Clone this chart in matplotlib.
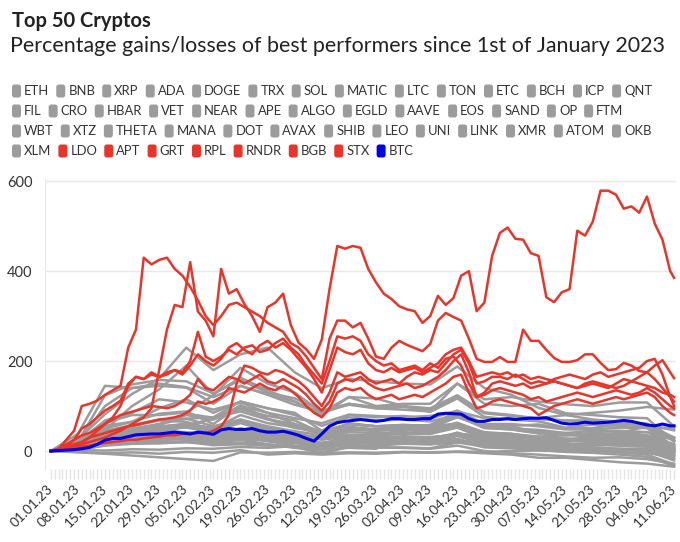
import numpy as np
import pandas as pd
import matplotlib
matplotlib.use("Agg")
import matplotlib.pyplot as plt
import matplotlib.dates as mdates
from matplotlib.patches import FancyBboxPatch
from matplotlib.transforms import IdentityTransform

plt.rcParams['font.family'] = ['Lato', 'DejaVu Sans']

# day offsets since 01.01.2023
week_days = np.arange(0, 162, 7)                 # gray coins, weekly
fine_days = np.r_[np.arange(0, 161, 2), 161]     # highlighted coins, every 2nd day

# ---- gray coins (weekly % change) ----
eth = [0,6,29,36,34,36,27,41,37,31,33,50,46,50,55,75,55,56,59,50,51,60,58,46]
bnb = [0,5,22,25,28,30,24,32,25,18,15,34,33,30,28,38,34,32,30,25,24,26,24,0]
xrp = [0,2,15,21,18,20,13,15,12,9,5,15,30,50,48,55,40,38,32,35,37,40,55,50]
ada = [0,10,35,45,55,60,51,67,45,35,30,47,45,55,58,88,60,60,55,48,48,52,51,10]
doge = [0,7,26,22,25,31,18,25,15,7,3,7,5,34,18,34,15,12,7,3,3,4,3,-11]
trx = [0,3,12,16,17,20,22,28,25,22,15,20,18,18,20,22,20,20,22,25,32,38,42,30]
sol = [0,38,145,140,145,141,105,145,126,110,80,120,100,105,105,150,115,120,110,104,100,108,108,55]
matic = [0,10,25,30,45,58,71,97,71,51,45,51,45,48,45,55,32,28,18,15,18,20,18,-18]
ltc = [0,8,26,22,29,32,36,43,33,21,7,21,25,30,28,40,29,25,14,20,29,30,32,14]
ton = [0,-2,-5,-3,-6,-2,-4,2,-8,-5,-8,-5,-6,-3,-4,-2,-5,-8,-15,-15,-20,-25,-28,-35]
etc = [0,8,37,50,45,38,25,50,38,25,12,30,30,28,28,37,24,22,15,12,14,15,14,-3]
bch = [0,2,13,24,34,30,26,39,33,29,13,32,30,32,31,34,24,22,18,15,16,18,15,13]
icp = [0,10,45,47,57,83,74,88,70,60,39,62,55,54,52,77,51,48,39,40,45,45,42,13]
qnt = [0,12,48,40,38,42,33,43,30,19,10,19,22,20,18,24,12,10,5,3,3,5,5,-7]
fil = [0,9,63,80,80,86,124,185,150,130,86,120,117,100,87,117,76,70,66,52,59,56,52,22]
cro = [0,8,31,35,42,55,48,46,35,27,18,27,27,29,28,36,22,20,18,15,16,12,10,0]
hbar = [0,15,50,65,95,115,85,110,95,85,45,80,75,78,72,90,60,55,40,35,40,38,35,15]
vet = [0,10,35,45,60,80,70,93,78,68,40,60,55,58,55,61,42,38,29,25,27,26,24,3]
near = [0,20,68,85,115,108,92,108,85,60,44,60,55,52,50,76,55,50,44,38,32,35,30,4]
ape = [0,25,45,55,68,65,45,62,45,30,13,28,22,22,20,27,12,8,4,-2,-4,-8,-13,-33]
algo = [0,8,30,40,53,60,45,70,50,35,12,28,25,25,22,41,22,18,12,5,0,-3,-8,-30]
egld = [0,4,15,20,27,30,24,34,22,12,-3,10,8,7,5,12,0,-5,-8,-12,-15,-14,-18,-28]
aave = [0,15,44,58,70,72,55,70,55,44,35,54,48,50,48,63,40,38,29,25,25,22,19,6]
eos = [0,6,28,30,34,36,30,46,40,38,28,36,35,38,38,52,28,22,16,10,8,5,0,-12]
sand = [0,19,100,140,150,142,120,145,125,103,87,103,95,98,92,120,84,78,71,68,68,64,61,22]
op = [0,25,82,127,161,230,180,215,230,175,140,160,155,150,148,188,140,125,96,80,70,65,60,30]
ftm = [0,15,47,100,137,190,126,163,135,110,84,105,95,92,88,150,105,100,105,84,80,75,73,21]
wbt = [0,2,1,4,3,6,5,9,7,11,10,13,12,16,15,19,18,21,24,23,27,29,31,28]
xtz = [0,8,32,40,52,60,50,80,62,53,38,52,48,50,46,60,38,35,32,28,26,22,20,-3]
theta = [0,12,40,50,60,72,75,110,95,80,56,75,68,70,66,80,52,48,40,36,32,30,28,6]
mana = [0,20,124,148,158,155,128,158,130,117,90,105,98,100,95,124,86,80,72,68,65,62,58,24]
dot = [0,12,40,46,51,52,42,67,50,40,28,42,40,42,38,58,38,32,28,22,23,22,21,2]
avax = [0,15,56,65,83,88,60,102,72,56,38,60,55,58,56,79,55,50,47,40,38,36,33,6]
shib = [0,10,31,40,48,62,50,68,48,37,25,32,30,32,30,37,20,15,12,8,5,4,0,-21]
leo = [0,-3,-6,-10,-14,-18,-22,-3,-4,-2,-5,-3,-4,-2,-3,-1,-2,0,1,-1,0,2,1,-1]
uni = [0,6,17,22,27,31,22,35,28,21,8,18,16,17,15,23,8,6,2,-1,-2,-3,-4,-15]
link = [0,4,18,20,27,25,20,36,26,21,16,22,24,28,30,37,22,20,16,14,12,15,14,2]
xmr = [0,6,19,21,22,20,17,19,15,9,-5,9,8,8,6,19,10,8,9,5,4,3,2,-5]
atom = [0,10,34,38,45,42,38,50,36,29,18,26,24,22,20,34,18,15,13,12,14,12,10,-10]
okb = [0,8,23,30,42,54,73,100,85,73,62,81,78,75,78,88,73,72,73,80,85,90,98,92]
xlm = [0,4,17,18,22,32,26,28,22,18,8,25,30,47,42,53,35,30,26,22,25,24,21,8]

gray_names = ["ETH", "BNB", "XRP", "ADA", "DOGE", "TRX", "SOL", "MATIC", "LTC", "TON",
              "ETC", "BCH", "ICP", "QNT", "FIL", "CRO", "HBAR", "VET", "NEAR", "APE",
              "ALGO", "EGLD", "AAVE", "EOS", "SAND", "OP", "FTM", "WBT", "XTZ", "THETA",
              "MANA", "DOT", "AVAX", "SHIB", "LEO", "UNI", "LINK", "XMR", "ATOM", "OKB", "XLM"]
gray_series = [eth, bnb, xrp, ada, doge, trx, sol, matic, ltc, ton, etc, bch, icp, qnt,
               fil, cro, hbar, vet, near, ape, algo, egld, aave, eos, sand, op, ftm,
               wbt, xtz, theta, mana, dot, avax, shib, leo, uni, link, xmr, atom, okb, xlm]

# ---- best performers (every 2nd day) ----
ldo = [0,5,15,25,35,40,50,60,75,100,
       145,165,160,175,165,170,180,175,200,265,
       210,200,210,225,215,230,235,220,225,240,
       250,230,215,190,170,150,200,255,250,255,
       245,215,200,190,195,180,185,190,180,195,
       185,205,210,190,150,120,130,150,155,150,
       145,150,140,145,150,155,150,145,140,150,
       155,150,145,140,145,155,165,175,160,140,
       120,110]
apt = [0,5,25,45,100,105,112,125,135,145,
       230,270,430,415,425,430,405,390,365,335,
       300,280,300,325,330,320,310,300,285,275,
       265,240,230,210,185,160,250,290,290,275,
       285,250,210,205,230,245,236,229,222,238,
       290,307,298,290,250,205,198,198,209,198,
       198,270,245,245,225,207,198,198,202,215,
       215,196,180,182,196,190,178,175,190,202,
       175,162]
grt = [0,2,5,8,10,12,15,18,20,22,
       25,25,28,30,32,35,35,38,38,40,
       40,45,55,80,150,190,185,175,170,180,
       175,165,155,140,120,100,130,175,165,170,
       175,160,150,155,160,150,165,175,170,180,
       175,195,215,225,195,150,155,165,165,160,
       170,160,150,155,150,160,165,170,165,160,
       170,175,165,170,175,180,185,200,205,170,
       120,100]
rpl = [0,3,8,15,20,30,45,60,70,80,
       85,90,95,100,98,95,100,110,125,160,
       140,135,150,165,160,150,160,170,155,150,
       160,150,140,125,105,90,110,150,160,155,
       165,150,140,135,140,145,150,140,145,155,
       165,180,200,215,175,120,125,135,140,135,
       130,125,115,120,110,115,120,125,130,125,
       120,125,130,135,130,125,130,140,130,115,
       100,95]
rndr = [0,2,6,10,15,20,25,30,38,45,
        55,65,75,95,180,270,325,320,420,310,
        290,255,405,350,360,327,300,265,320,330,
        350,280,241,226,205,248,360,456,450,456,
        452,405,375,350,338,322,315,311,285,300,
        345,325,340,390,400,311,330,434,485,497,
        472,470,440,434,342,331,353,360,490,479,
        510,579,579,570,539,544,530,566,506,470,
        400,385]
bgb = [0,2,5,10,20,30,35,40,45,50,
       55,58,62,66,70,72,75,80,90,110,
       105,110,120,140,135,130,140,150,140,135,
       145,135,120,100,85,75,95,130,140,135,
       140,125,115,120,125,115,120,125,120,130,
       140,150,165,170,130,95,100,110,115,110,
       105,100,95,80,90,100,105,110,115,110,
       105,110,115,120,115,120,125,130,120,100,
       85,80]
stx = [0,3,10,25,50,60,75,90,100,112,
       150,165,160,170,165,175,180,170,190,215,
       200,190,205,230,240,225,215,235,245,230,
       240,225,205,185,160,130,180,230,220,215,
       225,195,180,175,185,175,180,185,175,185,
       195,215,225,230,200,165,170,175,170,175,
       165,170,160,165,160,155,150,145,140,145,
       150,145,140,150,160,155,150,145,140,130,
       125,120]
btc = [0,1,2,3,5,8,15,24,28,28,
       32,36,37,38,38,40,42,40,38,42,
       40,37,47,50,48,48,50,45,42,42,
       44,40,35,28,22,38,55,63,66,68,
       70,68,66,68,72,72,70,70,72,72,
       82,84,83,82,72,66,66,70,70,72,
       70,72,73,73,74,68,62,60,61,64,
       62,63,64,66,68,66,62,58,56,60,
       56,56]

red_names = ["LDO", "APT", "GRT", "RPL", "RNDR", "BGB", "STX"]
red_series = [ldo, apt, grt, rpl, rndr, bgb, stx]

GRAY, RED, BLUE = "#9c9c9c", "#e8352b", "#0000e0"

fig = plt.figure(figsize=(6.8, 5.42), dpi=100)
W, H = 680, 542
ax = fig.add_axes([45 / W, (H - 469) / H, (676 - 45) / W, (469 - 179) / H])

t0 = mdates.date2num(pd.Timestamp("2023-01-01"))
for s in gray_series:
    ax.plot(t0 + week_days, s, color=GRAY, lw=1.8, solid_joinstyle="round")
for s in red_series:
    ax.plot(t0 + fine_days, s, color=RED, lw=1.8, solid_joinstyle="round")
ax.plot(t0 + fine_days, btc, color=BLUE, lw=2.2, solid_joinstyle="round")

ax.set_xlim(t0 - 1.5, t0 + 161.5)
ax.set_ylim(-40, 605)
ax.set_yticks([0, 200, 400, 600])
ax.grid(axis="y", color="#e8e8e8", lw=1)
ax.set_axisbelow(True)
for side in ["top", "right", "bottom"]:
    ax.spines[side].set_visible(False)
ax.spines["left"].set_color("#e8e8e8")
ax.tick_params(axis="y", length=0, pad=9, labelsize=10.5, labelcolor="#333333")

ax.set_xticks(t0 + np.arange(0, 162, 7))
ax.set_xticklabels([(pd.Timestamp("2023-01-01") + pd.Timedelta(days=int(d))).strftime("%d.%m.%y")
                    for d in np.arange(0, 162, 7)], rotation=45, ha="right", va="center",
                   rotation_mode="anchor")
ax.set_xticks(t0 + np.arange(0, 162), minor=True)
ax.tick_params(axis="x", which="both", length=7, color="#e4e4e4", width=1)
ax.tick_params(axis="x", which="major", pad=6, labelsize=9.8, labelcolor="#333333")

fig.text(12 / W, 1 - 21 / H, "Top 50 Cryptos", fontsize=14.5, fontweight="bold",
         color="#222222", va="center")
fig.text(10 / W, 1 - 46 / H, "Percentage gains/losses of best performers since 1st of January 2023",
         fontsize=15.4, color="#222222", va="center")

# legend, laid out like wrapped inline text
rows = [gray_names[0:14], gray_names[14:27], gray_names[27:40],
        gray_names[40:] + red_names + ["BTC"]]
row_y = [91, 111, 131, 151]
colors = {n: GRAY for n in gray_names}
colors.update({n: RED for n in red_names})
colors["BTC"] = BLUE
renderer = fig.canvas.get_renderer()
for names, yy in zip(rows, row_y):
    x = 12
    yd = H - yy
    for n in names:
        fig.patches.append(FancyBboxPatch((x, yd - 6.5), 9, 13,
                                          boxstyle="round,pad=0,rounding_size=2.5",
                                          fc=colors[n], ec="none",
                                          transform=IdentityTransform(), figure=fig))
        t = fig.text(x + 12, yd, n, fontsize=9.4, color="#333333", va="center",
                     transform=IdentityTransform())
        w = t.get_window_extent(renderer).width
        x += 12 + w + 7

fig.savefig("out.png", dpi=100)
